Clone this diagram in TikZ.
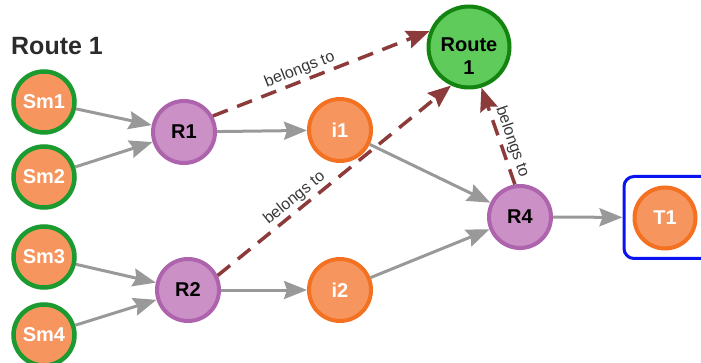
\documentclass[tikz,border=0pt]{standalone}
\usepackage{fontspec}
\setmainfont{Liberation Sans}
\usetikzlibrary{arrows.meta}

\definecolor{orfill}{HTML}{F6965E}
\definecolor{orline}{HTML}{F47122}
\definecolor{smgreen}{HTML}{1B9A2F}
\definecolor{pufill}{HTML}{CB90C6}
\definecolor{puline}{HTML}{AE64AC}
\definecolor{gofill}{HTML}{5ECB5B}
\definecolor{goline}{HTML}{13840F}
\definecolor{flowgray}{HTML}{999999}
\definecolor{ownred}{HTML}{8C3A3A}
\definecolor{boxblue}{HTML}{0A14F0}
\definecolor{inkgray}{HTML}{2B2B2B}
\definecolor{taggray}{HTML}{383838}

\begin{document}
\begin{tikzpicture}[x=1pt,y=-1pt,
  every node/.style={font=\fontsize{20}{23}\selectfont\bfseries},
  circ/.style={circle, inner sep=0pt, align=center},
  source/.style={circ, minimum size=61pt, fill=orfill, draw=smgreen, line width=4.5pt, text=white},
  router/.style={circ, minimum size=62pt, fill=pufill, draw=puline, line width=4pt, text=black},
  inter/.style={circ, minimum size=62pt, fill=orfill, draw=orline, line width=4pt, text=white},
  goal/.style={circ, minimum size=81pt, fill=gofill, draw=goline, line width=4pt},
  frame/.style={rectangle, rounded corners=10pt, draw=boxblue, line width=3pt,
    minimum width=88pt, minimum height=82pt},
  flow/.style={draw=flowgray, line width=3pt,
    -{Stealth[length=23pt, width=18pt, inset=3pt]}},
  owner/.style={draw=ownred, line width=3.5pt, dash pattern=on 16pt off 10pt,
    -{Stealth[length=23pt, width=18pt, inset=3pt]}},
  tag/.style={font=\fontsize{16}{18}\selectfont, text=taggray, sloped, above, inner sep=2pt}
]
\clip (0,0) rectangle (701,363);

% heading
\node[font=\fontsize{25}{30}\selectfont\bfseries, text=inkgray, anchor=west, inner sep=0pt]
  (title) at (11,46) {Route 1};

% sources
\node[source] (sm1) at (44,102) {Sm1};
\node[source] (sm2) at (44,177) {Sm2};
\node[source] (sm3) at (44,257) {Sm3};
\node[source] (sm4) at (44,335) {Sm4};

% routers and intermediate nodes
\node[router] (r1) at (184,132) {R1};
\node[router] (r2) at (188,290) {R2};
\node[router] (r4) at (520,217) {R4};
\node[inter] (i1) at (340,130) {i1};
\node[inter] (i2) at (340,290) {i2};

% route node, its caption sitting a little low
\node[goal, label={[align=center, yshift=-9pt, text=black]center:Route\\1}] (route) at (469,47) {};

% target in its frame
\node[inter, minimum size=61pt] (t1) at (665,218) {T1};
\node[frame] (box) at (668,217.5) {};

% flows
\draw[flow] (sm1) -- (r1);
\draw[flow] (sm2) -- (r1);
\draw[flow] (sm3) -- (r2);
\draw[flow] (sm4) -- (r2);
\draw[flow] (r1) -- (i1);
\draw[flow] (r2) -- (i2);
\draw[flow] (i1) -- (r4);
\draw[flow] (i2) -- (r4);
\draw[flow] (r4) -- (box);

% membership
\draw[owner] (r1.29) -- node[tag, pos=0.42] {belongs to} (route.158);
\draw[owner] (r2.26) -- node[tag, pos=0.36] {belongs to} (route.245);
\draw[owner] (r4.99) -- node[tag, pos=0.4] {belongs to} (route.287);
\end{tikzpicture}
\end{document}
